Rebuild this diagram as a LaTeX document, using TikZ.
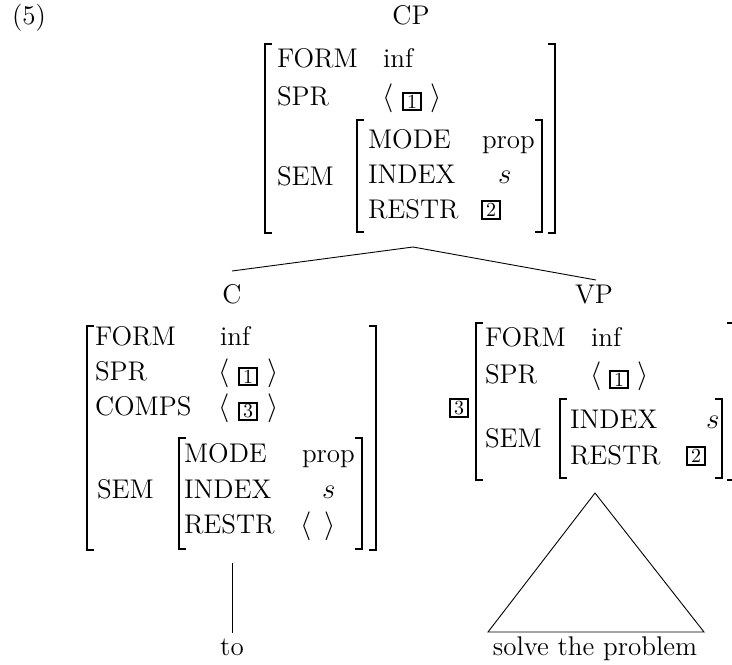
\documentclass[tikz,border=0pt]{standalone}
\usepackage{amsmath}
\newcommand\lbrk[3]{\draw[brk] (#1+7,#2) -- (#1,#2) -- (#1,#3) -- (#1+7,#3);}
\newcommand\rbrk[3]{\draw[brk] (#1-7,#2) -- (#1,#2) -- (#1,#3) -- (#1-7,#3);}
\begin{document}
\begin{tikzpicture}[x=0.5pt,y=-0.5pt,
  every node/.style={inner sep=0pt, outer sep=0pt, font=\fontsize{13.5}{16}\selectfont},
  lbl/.style={anchor=base west},
  ctr/.style={anchor=base},
  tag/.style={draw, line width=0.85pt, minimum width=9.2pt, minimum height=8.8pt, inner sep=0pt, font=\fontsize{10}{11}\selectfont},
  brk/.style={line width=0.8pt},
  branch/.style={line width=0.45pt},
]
\useasboundingbox (0,0) rectangle (732,664);
\clip (0,0) rectangle (732,664);

% ---------- CP ----------
\node[lbl] (n5) at (12,25) {(5)};
\node[ctr] (cp) at (411,25) {CP};
\lbrk{265}{44}{233} \rbrk{555}{44}{233}
\node[lbl] (cpform) at (277,67) {FORM};
\node[lbl] (cpinf) at (383,67) {inf};
\node[lbl] (cpspr) at (277,105) {SPR};
\node[ctr] (cpla) at (388,105) {$\langle$};
\node[tag] (cpt1) at (412,101.5) {1};
\node[ctr] (cpra) at (436,105) {$\rangle$};
\node[lbl] (cpsem) at (277,185) {SEM};
\lbrk{357}{120}{232} \rbrk{542}{120}{232}
\node[lbl] (cpmode) at (368,148) {MODE};
\node[lbl] (cpprop) at (482,148) {prop};
\node[lbl] (cpindex) at (368,183) {INDEX};
\node[lbl] (cps) at (498,183) {$s$};
\node[lbl] (cprestr) at (368,218) {RESTR};
\node[tag] (cpt2) at (491,210) {2};

% ---------- branches ----------
\coordinate (apex) at (413,247);
\coordinate (lend) at (232,271);
\coordinate (rend) at (596,280);
\draw[branch] (lend) -- (apex) -- (rend);

% ---------- C ----------
\node[ctr] (c) at (232,303) {C};
\lbrk{87}{326}{550} \rbrk{376}{326}{550}
\node[lbl] (cform) at (95,345) {FORM};
\node[lbl] (cinf) at (220,345) {inf};
\node[lbl] (cspr) at (95,380) {SPR};
\node[ctr] (cla1) at (224,380) {$\langle$};
\node[tag] (ct1) at (248,376.5) {1};
\node[ctr] (cra1) at (273,380) {$\rangle$};
\node[lbl] (ccomps) at (95,415) {COMPS};
\node[ctr] (cla2) at (224,415) {$\langle$};
\node[tag] (ct3) at (248,411.5) {3};
\node[ctr] (cra2) at (273,415) {$\rangle$};
\node[lbl] (csem) at (97,498) {SEM};
\lbrk{179}{438}{549} \rbrk{362}{438}{549}
\node[lbl] (cmode) at (184,462) {MODE};
\node[lbl] (cprop) at (302,462) {prop};
\node[lbl] (cindex) at (184,498) {INDEX};
\node[lbl] (cs) at (322,498) {$s$};
\node[lbl] (crestr) at (184,533) {RESTR};
\node[ctr] (cla3) at (306,533) {$\langle$};
\node[ctr] (cra3) at (330,533) {$\rangle$};
\coordinate (ctop) at (232,563);
\node[ctr] (to) at (232,655) {to};
\draw[branch] (ctop) -- (232,633);

% ---------- VP ----------
\node[ctr] (vp) at (594,303) {VP};
\node[tag] (vpt3) at (459,408) {3};
\lbrk{476}{323}{480} \rbrk{734}{323}{480}
\node[lbl] (vpform) at (485,346) {FORM};
\node[lbl] (vpinf) at (591,346) {inf};
\node[lbl] (vpspr) at (485,383) {SPR};
\node[ctr] (vpla) at (596,383) {$\langle$};
\node[tag] (vpt1) at (619,379.5) {1};
\node[ctr] (vpra) at (643,383) {$\rangle$};
\node[lbl] (vpsem) at (485,447) {SEM};
\lbrk{560}{399}{478} \rbrk{722}{399}{478}
\node[lbl] (vpindex) at (570,428) {INDEX};
\node[lbl] (vps) at (706,428) {$s$};
\node[lbl] (vprestr) at (570,464) {RESTR};
\node[tag] (vpt2) at (696,456) {2};

% ---------- triangle ----------
\coordinate (tapex) at (595,493);
\coordinate (tbl) at (488,632);
\coordinate (tbr) at (704,632);
\draw[branch] (tbl) -- (tapex) -- (tbr) -- cycle;
\node[ctr] (solve) at (595,655) {solve the problem};
\end{tikzpicture}
\end{document}
